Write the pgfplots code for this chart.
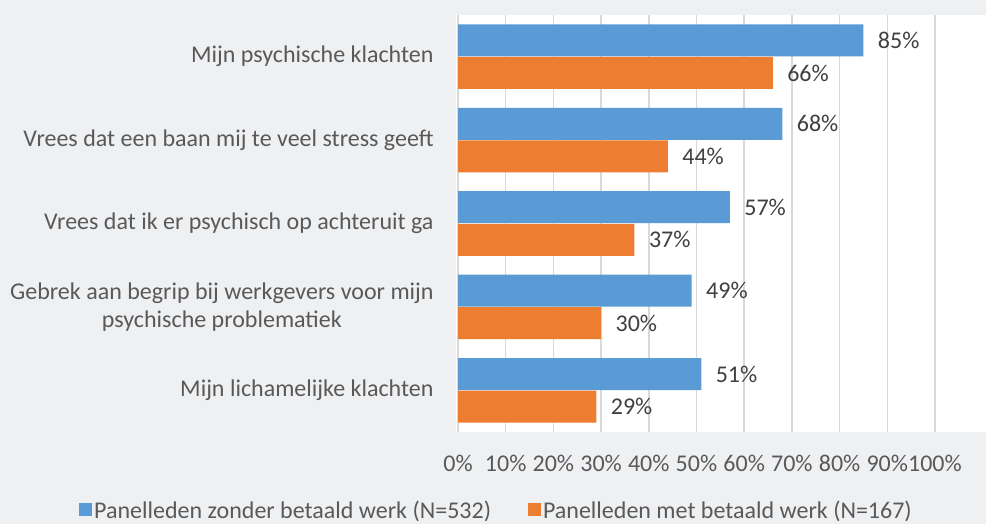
\documentclass[border=0pt]{standalone}
\usepackage{pgfplots}
\pgfplotsset{compat=1.18}
\usepackage{fontspec}
\setmainfont{Carlito}
\definecolor{bgc}{RGB}{239,240,242}
\definecolor{cblue}{RGB}{91,155,213}
\definecolor{corange}{RGB}{237,125,49}
\definecolor{lblgray}{RGB}{89,89,89}
\definecolor{valgray}{RGB}{64,64,64}
\definecolor{gridc}{RGB}{217,217,217}
\begin{document}
\begin{tikzpicture}
\fill[bgc] (0,0) rectangle (986bp,524bp);
\begin{axis}[
  at={(456bp,92bp)}, anchor=south west,
  scale only axis, width=530bp, height=417bp,
  xmin=-0.42, xmax=110.7, ymin=-0.5, ymax=4.5,
  axis background/.style={fill=white},
  axis line style={draw=none},
  major tick length=0pt,
  font=\fontsize{24bp}{28bp}\selectfont,
  /pgf/number format/assume math mode=true,
  xtick={0,10,...,100},
  xticklabel={\pgfmathprintnumber{\tick}\%},
  xticklabel style={text=lblgray, yshift=-20bp},
  xmajorgrids, grid style={draw=gridc, line width=1.5bp},
  ytick={0,1,2,3,4},
  yticklabels={Mijn lichamelijke klachten,
    {Gebrek aan begrip bij werkgevers voor mijn\\psychische problematiek},
    Vrees dat ik er psychisch op achteruit ga,
    Vrees dat een baan mij te veel stress geeft,
    Mijn psychische klachten},
  yticklabel style={text=lblgray, align=center, xshift=-19bp},
  bar width=32bp,
  point meta=x,
  nodes near coords={\pgfmathprintnumber{\pgfplotspointmeta}\%},
  every node near coord/.append style={text=valgray, anchor=west, xshift=11bp, font=\fontsize{24bp}{28bp}\selectfont},
  legend columns=2,
  legend style={at={(0.0764,-0.187)}, anchor=center, draw=none, fill=none,
    text=lblgray, font=\fontsize{24bp}{28bp}\selectfont,
    /tikz/every even column/.append style={column sep=35bp}},
  legend image code/.code={\fill[#1] (0bp,-6.5bp) rectangle (13bp,6.5bp);},
  clip=false,
]
% blue bars sit 0.195 above each category centre, orange 0.195 below
\addplot[xbar, bar shift=0pt, fill=cblue, draw=none] coordinates {
  (85,4.195) (68,3.195) (57,2.195) (49,1.195) (51,0.195)};
\addlegendentry{Panelleden zonder betaald werk (N=532)}
\addplot[xbar, bar shift=0pt, fill=corange, draw=none] coordinates {
  (66,3.805) (44,2.805) (37,1.805) (30,0.805) (29,-0.195)};
\addlegendentry{Panelleden met betaald werk (N=167)}
\end{axis}
\pgfresetboundingbox
\path (0,0) rectangle (986bp,524bp);
\end{tikzpicture}
\end{document}
